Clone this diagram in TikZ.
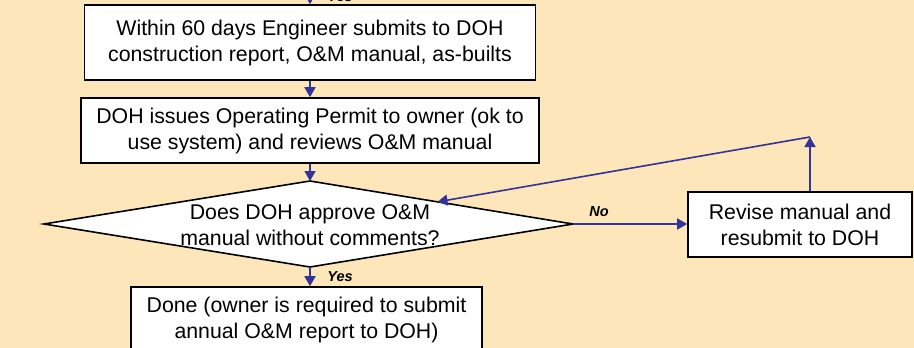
\documentclass[tikz,border=0pt]{standalone}
\usepackage{fontspec}
\setmainfont{Liberation Sans}
\usetikzlibrary{arrows.meta,calc}
\definecolor{bg}{RGB}{253,230,186}
\definecolor{arr}{RGB}{51,51,153}
\tikzset{
 box/.style={draw=black, line width=1.6pt, fill=white, inner sep=0pt, align=center, font=\fontsize{21.3}{26}\selectfont},
 txt/.style={align=center, inner sep=0pt, font=\fontsize{21.3}{26}\selectfont},
 conn/.style={draw=arr, line width=1.6pt, -{Triangle[width=11pt,length=10pt]}},
 lbl/.style={font=\fontsize{14.5}{16}\selectfont\bfseries\itshape, inner sep=0pt},
}
\begin{document}
\begin{tikzpicture}[x=1pt,y=-1pt]
\useasboundingbox (0,0) rectangle (914,348);
\clip (0,0) rectangle (914,348);
\fill[bg] (0,0) rectangle (914,348);

% boxes
\node[box, minimum width=451pt, minimum height=75pt] (b1) at (310,42.5)
  {Within 60 days Engineer submits to DOH\\construction report, O\&M manual, as-builts};
\node[box, minimum width=458pt, minimum height=65pt] (b2) at (310,130.5)
  {DOH issues Operating Permit to owner (ok to\\use system) and reviews O\&M manual};

% diamond
\coordinate (dT) at (310,181);
\coordinate (dR) at (573,224);
\coordinate (dB) at (310,267);
\coordinate (dL) at (44,224);
\draw[draw=black, line width=1.6pt, fill=white, line join=miter] (dT) -- (dR) -- (dB) -- (dL) -- cycle;
\node[txt] (dtext) at (310,225) {Does DOH approve O\&M\\manual without comments?};
\coordinate (dRet) at ($(dT)!0.485!(dR)$);

\node[box, minimum width=351pt, minimum height=65pt] (done) at (306.5,319.5)
  {Done (owner is required to submit\\annual O\&M report to DOH)};
\node[box, minimum width=224pt, minimum height=65pt] (rev) at (800,224.5)
  {Revise manual and\\resubmit to DOH};

\coordinate (topin) at (310,-40);
\coordinate (retTop) at (810,137);

% connectors
\draw[conn] (topin) -- (b1.north);
\draw[conn] (b1.south) -- (b2.north);
\draw[conn] (b2.south) -- (dT);
\draw[conn] (dB) -- (dB |- done.north);
\draw[conn] (dR) -- (rev.west |- dR);
\draw[conn] (rev.north -| retTop) -- (retTop);
\draw[conn] (retTop) -- (dRet);

% labels
\node[lbl] (yesT) at (340,-3.5) {Yes};
\node[lbl] (yesB) at (340,277) {Yes};
\node[lbl] (no) at (599,212) {No};
\end{tikzpicture}
\end{document}
